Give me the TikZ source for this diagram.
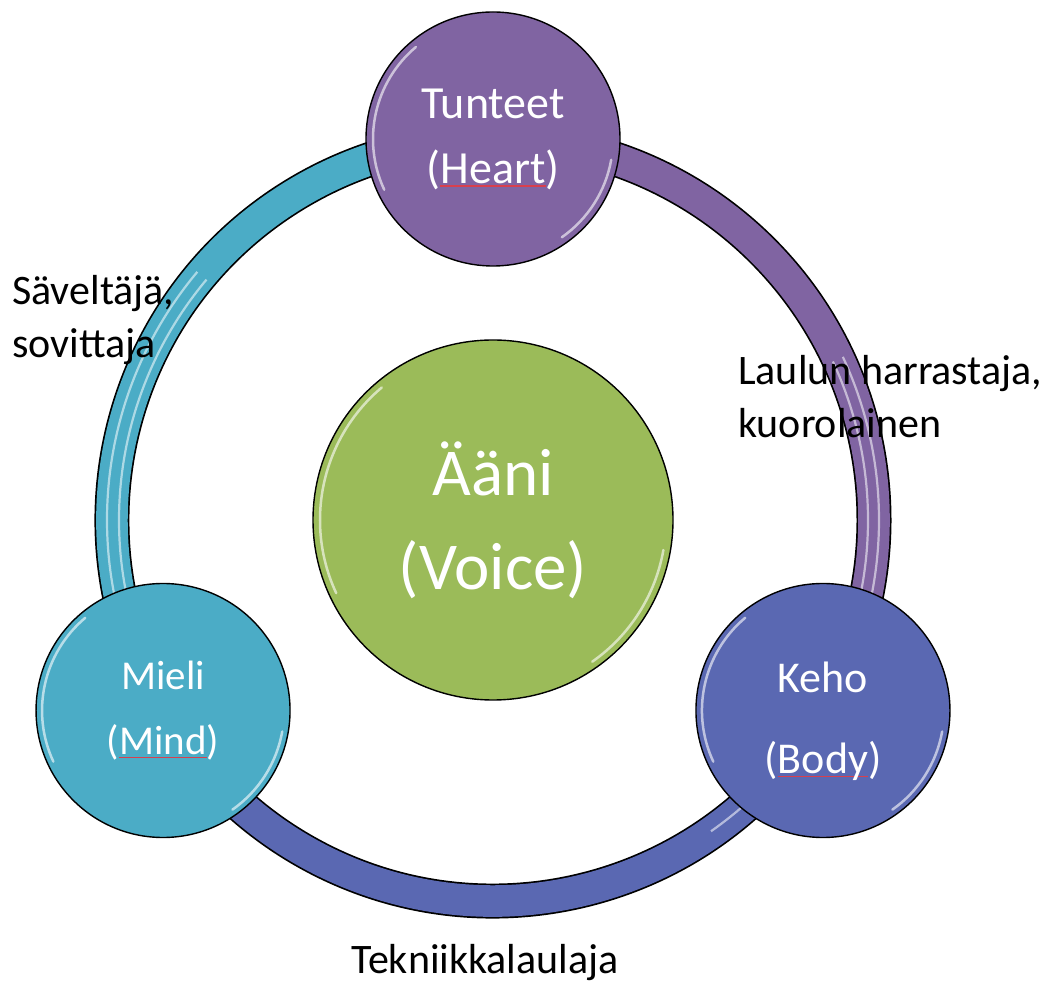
\documentclass[tikz,border=0pt]{standalone}
\usepackage{fontspec}
\setmainfont{Carlito}
\usetikzlibrary{backgrounds}
\definecolor{heartpurple}{HTML}{8064A2}
\definecolor{mindcyan}{HTML}{4BACC6}
\definecolor{bodyblue}{HTML}{5A68B2}
\definecolor{voicegreen}{HTML}{9BBB59}
\definecolor{spellred}{HTML}{D8404E}
\newcommand\spellmark[1]{\setbox0\hbox{#1}\rlap{\color{spellred}\rule[-3.5pt]{\wd0}{1.3pt}}\box0}
\tikzset{
  bubble/.style={circle,draw=black,line width=1.4pt,minimum size=254pt,inner sep=0pt,text=white,align=center},
  rim/.style={line width=35pt,draw=black},
  band/.style={line width=31.6pt},
  stripe/.style={white,line width=2.2pt,opacity=0.55},
  gleam/.style={white,line width=2.5pt,opacity=0.6,line cap=round},
  label/.style={align=left,font=\fontsize{42}{53}\selectfont,inner sep=0pt}
}
\begin{document}
\begin{tikzpicture}[x=1pt,y=1pt]
\useasboundingbox (0,0) rectangle (1057,983);
\coordinate (ctr) at (493,463);
% the four circles
\begin{scope}[shift={(ctr)}]
\node[bubble,fill=voicegreen,minimum size=360pt,font=\fontsize{67}{94}\selectfont] (voice) at (0,0) {Ääni\\(Voice)};
\node[bubble,fill=heartpurple,font=\fontsize{46}{65}\selectfont] (heart) at (90:381) {Tunteet\\(\spellmark{Heart})};
\node[bubble,fill=mindcyan,font=\fontsize{41}{65}\selectfont] (mind) at (210:381) {Mieli\\(\spellmark{Mind})};
\node[bubble,fill=bodyblue,font=\fontsize{44}{81}\selectfont] (body) at (330:381) {\rule{0pt}{52pt}Keho\\(\spellmark{Body})};
\end{scope}
\foreach \n/\r in {heart/120,mind/121,body/121,voice/173} {
  \draw[gleam] (\n.center) ++(130:\r) arc[start angle=130,end angle=205,radius=\r];
  \draw[gleam] (\n.center) ++(-10:\r) arc[start angle=-10,end angle=-55,radius=\r];
}
% the ring between them
\begin{scope}[on background layer]
\foreach \n/\a/\col in {heart/90/heartpurple,body/-30/bodyblue,mind/-150/mindcyan} {
  \draw[rim] (\n.center) arc[start angle=\a,end angle=\a-120,radius=381];
  \draw[band,draw=\col] (\n.center) arc[start angle=\a,end angle=\a-120,radius=381];
}
\foreach \s/\e/\r in {25/-28/375,25/-28/386,205/140/374,205/140/386,-35/-55/380} {
  \draw[stripe] (ctr) ++(\s:\r) arc[start angle=\s,end angle=\e,radius=\r];
}
\end{scope}
% labels
\node[label,anchor=base west] (composer) at (12,625) {Säveltäjä,\\sovittaja};
\node[label,anchor=base west] (amateur) at (738,545) {Laulun harrastaja,\\kuorolainen};
\node[label,anchor=base] (technique) at (485,10) {Tekniikkalaulaja};
\end{tikzpicture}
\end{document}
